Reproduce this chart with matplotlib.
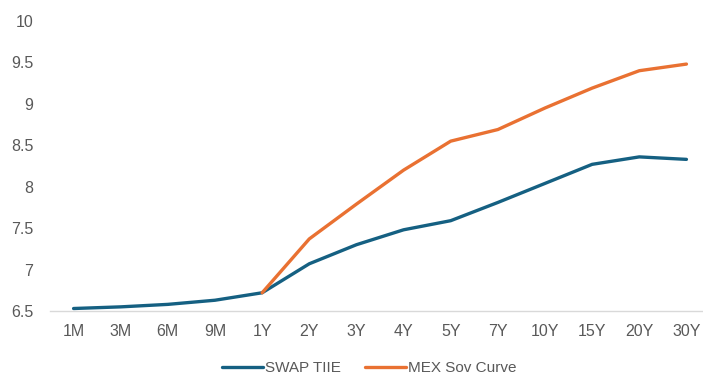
import matplotlib
matplotlib.use("Agg")
import matplotlib.pyplot as plt
import numpy as np

tenors = ["1M", "3M", "6M", "9M", "1Y", "2Y", "3Y", "4Y", "5Y", "7Y", "10Y", "15Y", "20Y", "30Y"]
swap_tiie = [6.53, 6.55, 6.58, 6.63, 6.72, 7.07, 7.30, 7.48, 7.59, 7.81, 8.04, 8.27, 8.36, 8.33]
# Sovereign curve starts at the 1Y point
mex_sov = [None, None, None, None, 6.72, 7.37, 7.79, 8.20, 8.55, 8.69, 8.95, 9.19, 9.40, 9.48]
yticks = [6.5, 7, 7.5, 8, 8.5, 9, 9.5, 10]

BLUE = "#156082"
ORANGE = "#E97132"
GRAY = "#595959"

plt.rcParams["font.family"] = ["Liberation Sans", "DejaVu Sans"]

fig = plt.figure(figsize=(7.03, 3.74), dpi=100)
ax = fig.add_axes([50 / 703, 1 - 311 / 374, (710 - 50) / 703, (311 - 21) / 374])

x = np.arange(len(tenors))
sov = np.array([np.nan if v is None else v for v in mex_sov], dtype=float)

ax.plot(x, swap_tiie, color=BLUE, lw=2.4, solid_capstyle="round", solid_joinstyle="round",
        label="SWAP TIIE", zorder=3)
ax.plot(x, sov, color=ORANGE, lw=2.4, solid_capstyle="round", solid_joinstyle="round",
        label="MEX Sov Curve", zorder=4)

ax.set_xlim(-0.5, len(tenors) - 0.5)
ax.set_ylim(6.5, 10)
ax.set_xticks(x)
ax.set_xticklabels(tenors)
ax.set_yticks(yticks)
ax.set_yticklabels([f"{v:g}" for v in yticks])

for s in ["top", "right", "left"]:
    ax.spines[s].set_visible(False)
ax.spines["bottom"].set_color("#d9d9d9")
ax.spines["bottom"].set_linewidth(1.0)
ax.tick_params(axis="both", length=0, colors=GRAY, labelsize=11.5)
ax.tick_params(axis="x", pad=9.5)
ax.tick_params(axis="y", pad=12)

leg = fig.legend(loc="center", bbox_to_anchor=(369 / 703, 1 - 368 / 374), ncol=2,
                 frameon=False, handlelength=2.7, handletextpad=0.1, columnspacing=1.6,
                 prop={"family": ["Liberation Sans Narrow", "Liberation Sans"], "size": 11})
for t in leg.get_texts():
    t.set_color(GRAY)

fig.savefig("out.png", dpi=100)
